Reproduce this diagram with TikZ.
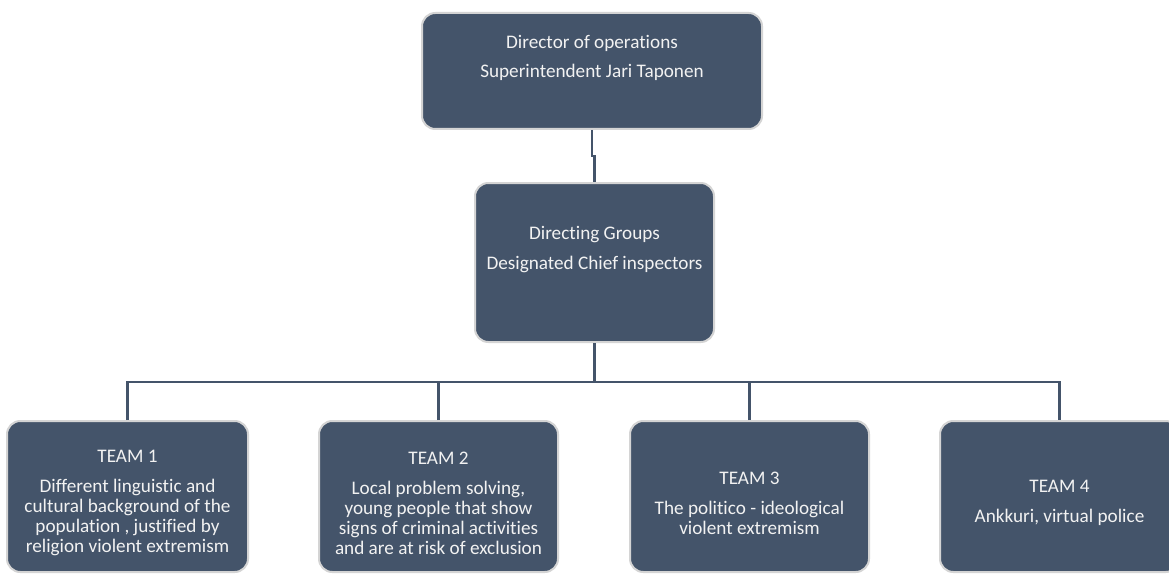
\documentclass[tikz,border=0pt]{standalone}
\usepackage{fontspec}
\setmainfont[Ligatures={NoCommon,NoRequired}]{Carlito}
\usetikzlibrary{calc}
\definecolor{boxfill}{HTML}{44546A}
\definecolor{boxline}{HTML}{D4D4D4}
\begin{document}
\begin{tikzpicture}[x=0.75pt,y=-0.75pt,
  box/.style={draw=boxline, line width=1.5pt, fill=boxfill, rounded corners=10pt, inner sep=0pt},
  lbl/.style={text=white!95!black, align=center, font=\fontsize{14.4}{15}\selectfont, inner sep=0pt},
  conn/.style={draw=boxfill, line width=2pt}]
\clip (0,0) rectangle (1169,574);
\fill[white] (0,0) rectangle (1169,574);
% boxes
\node[box, minimum width=340*0.75pt, minimum height=116*0.75pt] (top) at (592,71) {};
\node[box, minimum width=239*0.75pt, minimum height=159*0.75pt] (mid) at (594.5,262.5) {};
\node[box, minimum width=241*0.75pt, minimum height=151*0.75pt] (t1) at (127.5,496.5) {};
\node[box, minimum width=239*0.75pt, minimum height=151*0.75pt] (t2) at (438.5,496.5) {};
\node[box, minimum width=239*0.75pt, minimum height=151*0.75pt] (t3) at (749.5,496.5) {};
\node[box, minimum width=239*0.75pt, minimum height=151*0.75pt] (t4) at (1059.5,496.5) {};
% texts
\node[lbl] (topl) at (592,58) {Director of operations\\[7pt]Superintendent Jari Taponen};
\node[lbl] (midl) at (594.5,250) {Directing Groups\\[7.5pt]Designated Chief inspectors};
\node[lbl] (t1l) at (127.5,503) {TEAM 1\\[7.5pt]Different linguistic and\\cultural background of the\\population , justified by\\religion violent extremism};
\node[lbl] (t2l) at (438.5,503) {TEAM 2\\[7.5pt]Local problem solving,\\young people that show\\signs of criminal activities\\and are at risk of exclusion};
\node[lbl] (t3l) at (749.5,503) {TEAM 3\\[7.5pt]The politico - ideological\\violent extremism};
\node[lbl] (t4l) at (1059.5,503) {TEAM 4\\[7.5pt]Ankkuri, virtual police};
% connectors
\coordinate (bus) at (0,382);
\draw[conn] (top.south) |- ($(top.south)!0.5!(mid.north)$) -| (mid.north);
\draw[conn] (mid.south) -- (mid.south |- bus);
\draw[conn] (t1.north) -- (t1.north |- bus) -- (t4.north |- bus) -- (t4.north);
\draw[conn] (t2.north) -- (t2.north |- bus);
\draw[conn] (t3.north) -- (t3.north |- bus);
\end{tikzpicture}
\end{document}
